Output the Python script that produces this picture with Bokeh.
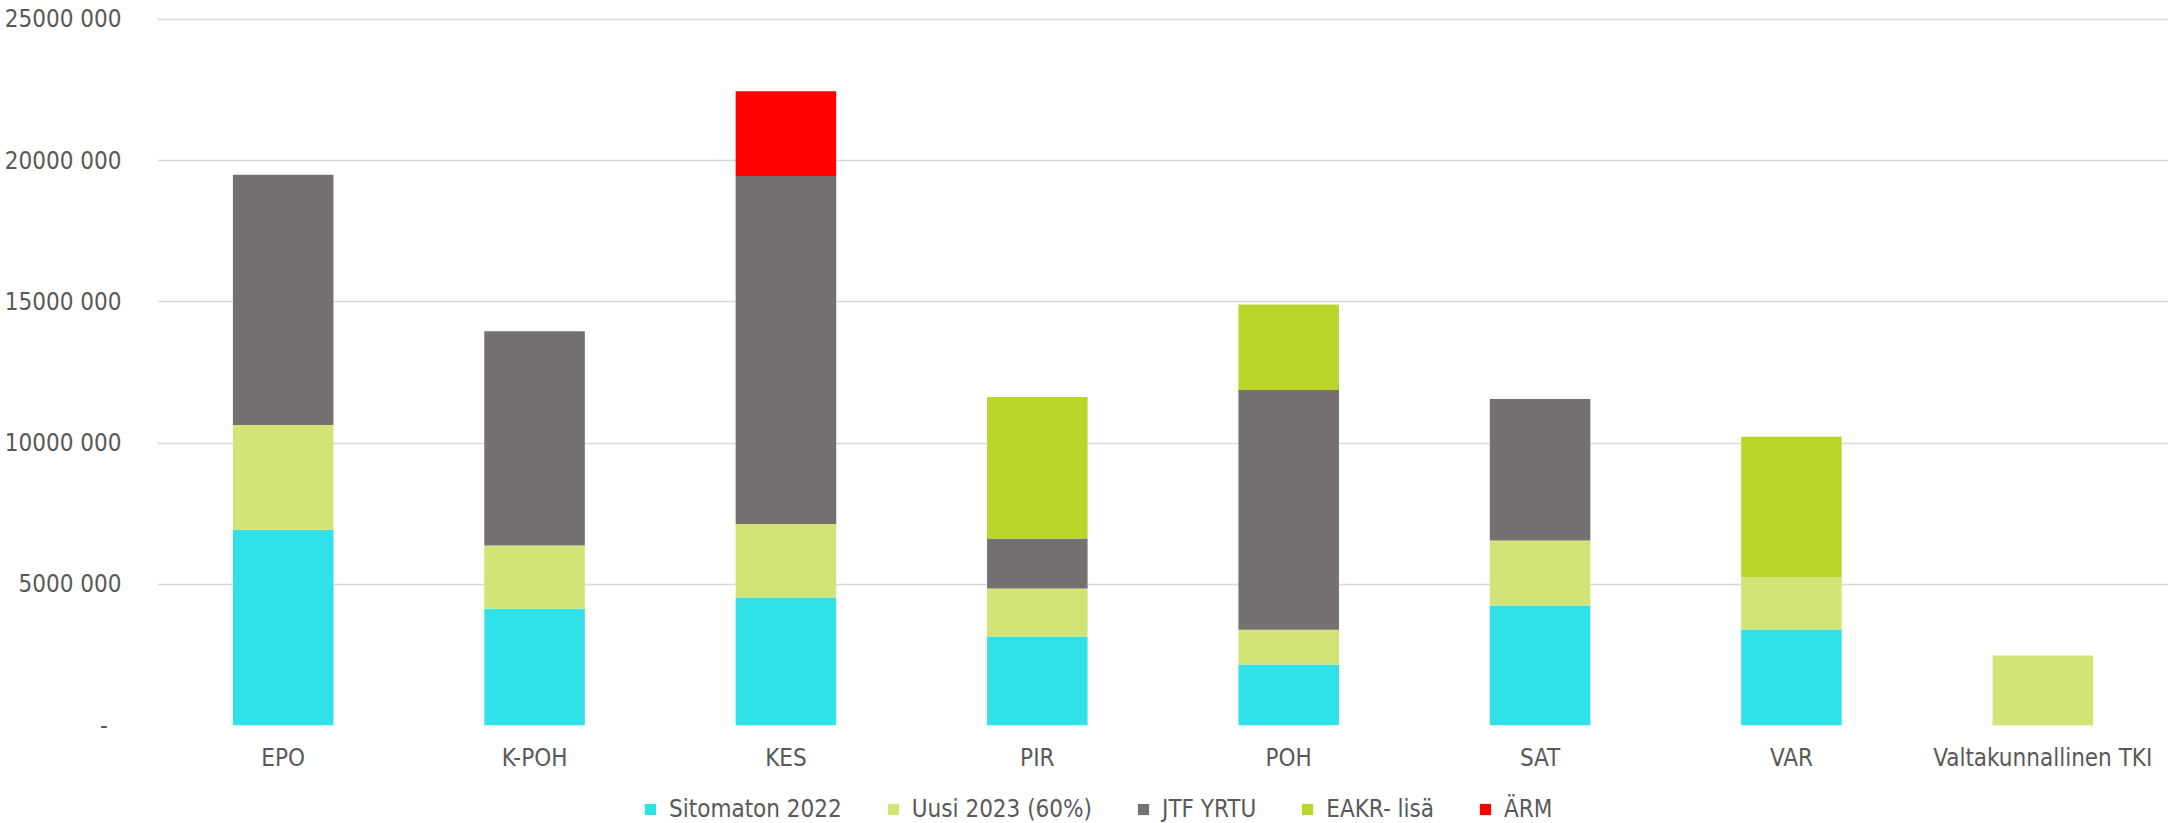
from bokeh.plotting import figure
from bokeh.layouts import column
from bokeh.models import (Range1d, FixedTicker, CustomJSTickFormatter, Legend,
                          LegendItem, FactorRange, ColumnDataSource)
from bokeh.embed import file_html
from bokeh.resources import INLINE

categories = ["EPO", "K-POH", "KES", "PIR", "POH", "SAT", "VAR", "Valtakunnallinen TKI"]

series_names = ["Sitomaton 2022", "Uusi 2023 (60%)", "JTF YRTU", "EAKR- lisä", "ÄRM"]
sitomaton_2022 = [6930000, 4130000, 4530000, 3150000, 2160000, 4250000, 3400000, 0]
uusi_2023 = [3710000, 2240000, 2600000, 1700000, 1230000, 2300000, 1840000, 2480000]
jtf_yrtu = [8860000, 7590000, 12320000, 1770000, 8490000, 5010000, 0, 0]
eakr_lisa = [0, 0, 0, 5010000, 3020000, 0, 4980000, 0]
arm = [0, 0, 3000000, 0, 0, 0, 0, 0]

y_ticks = [0, 5000000, 10000000, 15000000, 20000000, 25000000]

colors = ["#30E1E7", "#D2E475", "#767171", "#B9D62B", "#FF0000"]
keys = ["s1", "s2", "s3", "s4", "s5"]

source = ColumnDataSource(dict(cat=categories, s1=sitomaton_2022, s2=uusi_2023,
                               s3=jtf_yrtu, s4=eakr_lisa, s5=arm))

FONT = "DejaVu Sans Condensed"
TXT = "#595959"

p = figure(x_range=FactorRange(*categories), y_range=Range1d(0, 25100000),
           width=2175, height=775, output_backend="svg", toolbar_location=None,
           min_border_left=157, min_border_right=7, min_border_top=16,
           min_border_bottom=50)

renderers = p.vbar_stack(keys, x="cat", width=0.4, fill_color=colors,
                         line_color=None, source=source)

p.outline_line_color = None
p.background_fill_color = "white"
p.border_fill_color = "white"

p.xgrid.grid_line_color = None
p.ygrid.grid_line_color = "#D9D9D9"
p.ygrid.grid_line_width = 1.5

p.yaxis.ticker = FixedTicker(ticks=y_ticks)
p.yaxis.formatter = CustomJSTickFormatter(code="""
if (tick == 0) { return "-\\u00a0\\u00a0"; }
const th = Math.floor(tick / 1000);
const r = String(Math.round(tick % 1000)).padStart(3, "0");
return th + " " + r;
""")

for ax in (p.xaxis[0], p.yaxis[0]):
    ax.axis_line_color = None
    ax.major_tick_line_color = None
    ax.minor_tick_line_color = None
    ax.major_label_text_font = FONT
    ax.major_label_text_font_size = "24px"
    ax.major_label_text_color = TXT

p.xaxis.major_label_standoff = 12
p.yaxis.major_label_standoff = 30

# legend strip below the chart (swatch renderers sit outside the visible range)
pl = figure(x_range=Range1d(0, 1), y_range=Range1d(0, 1), width=2175, height=48,
            output_backend="svg", toolbar_location=None,
            x_axis_location=None, y_axis_location=None, min_border=0)
pl.outline_line_color = None
pl.grid.visible = False
pl.background_fill_color = "white"
pl.border_fill_color = "white"
legend_renderers = [pl.vbar(x=[-5], bottom=[-5], top=[-4], width=0.1,
                            fill_color=c, line_color=None)
                    for c in colors]

legend = Legend(items=[LegendItem(label=n, renderers=[r])
                       for n, r in zip(series_names, legend_renderers)],
                orientation="horizontal", location=(486, 0),
                glyph_width=14, glyph_height=14, label_standoff=12, spacing=44,
                padding=0, margin=0, border_line_color=None, background_fill_alpha=0,
                label_text_font=FONT, label_text_font_size="24px", label_text_color=TXT,
                label_height=24)
pl.add_layout(legend, "center")

layout = column(p, pl, spacing=0)
open("out.html", "w").write(file_html(layout, INLINE))
